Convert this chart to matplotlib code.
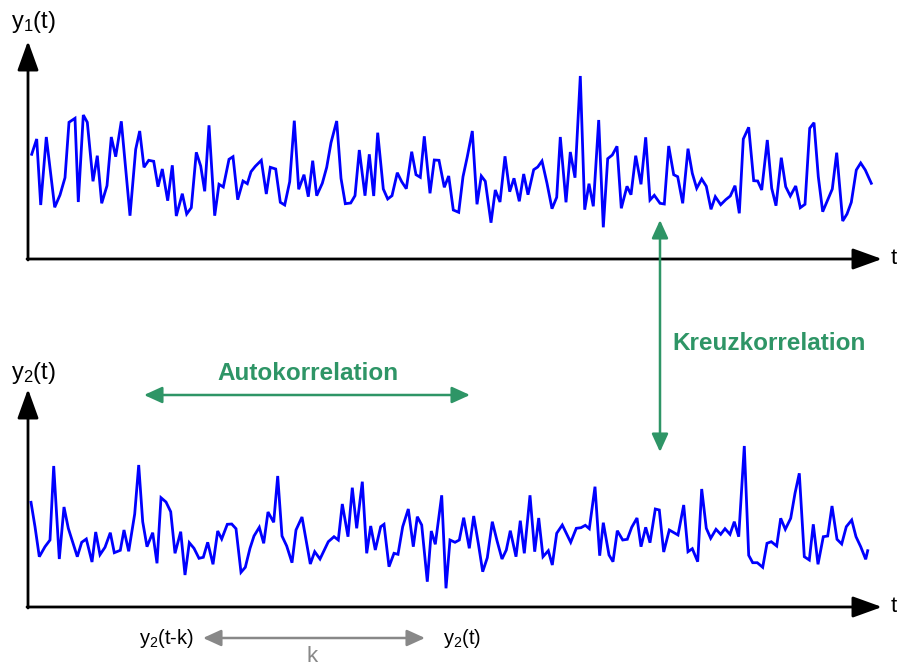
import matplotlib
matplotlib.use('Agg')
import matplotlib.pyplot as plt
from matplotlib.patches import FancyArrowPatch

plt.rcParams['font.family'] = ['Liberation Sans', 'DejaVu Sans']
plt.rcParams['mathtext.fontset'] = 'custom'
plt.rcParams['mathtext.rm'] = 'Liberation Sans'
plt.rcParams['mathtext.it'] = 'Liberation Sans'

# series y1(t): time and amplitude
t1 = [3.7, 8.7, 12.7, 18.3, 26.7, 32, 37, 41, 47, 50.3, 55.3, 59.3, 65, 69.3,
      73.7, 79, 83.3, 87.7, 93.3, 102, 107.7, 111.7, 116, 120.7, 125.7, 130,
      134.3, 139.7, 144.3, 148.3, 154.3, 158.7, 163.3, 168.3, 172.7, 176.7,
      181, 186.7, 191, 195.3, 201, 205, 209.7, 215, 219.3, 223, 227.3, 233.3,
      238.3, 242.3, 247.7, 252.3, 256.7, 261.7, 266.3, 270.7, 276, 280.3,
      284.7, 288.7, 294.3, 298.7, 303, 308.7, 313, 317.3, 322.7, 327, 331.3,
      337, 341.3, 345.7, 349.7, 355.3, 359.7, 364, 369.3, 373.7, 378.3, 383.7,
      388, 392.3, 396.3, 402, 406.3, 411, 416.3, 420.7, 425.3, 430.7, 435,
      439.3, 444.3, 449, 453.3, 457.3, 463, 467.3, 472, 477, 481.7, 486,
      491.3, 495.7, 500, 505.7, 509.7, 514, 519, 524, 528.7, 532.3, 538,
      542.3, 547, 552.3, 556.7, 561, 565.3, 570.7, 575.3, 579.7, 584.3, 589,
      593.3, 599, 603, 607.7, 613, 617.7, 622, 626.3, 632, 636.3, 640.7,
      645.7, 649.7, 654.7, 660, 664.3, 668.7, 673.7, 678.3, 683, 687.3, 692.7,
      697.7, 702.3, 707, 711.3, 715.3, 720.7, 725.7, 729.7, 733.7, 739.3,
      743.7, 748, 753.3, 757.7, 762.3, 767.7, 772.3, 777, 781.7, 786, 790.3,
      794.7, 799.7, 804.3, 808.7, 814.7, 819, 823.3, 828.3, 832.7, 837.3,
      843.3]
y1 = [104.7, 120, 54, 122, 51.7, 64, 81.3, 136.7, 140.7, 57, 144, 136.7,
      77.7, 103.3, 55.7, 73.3, 122, 102.3, 137.7, 43.3, 109.7, 128, 91.7,
      98.7, 97.7, 72.3, 90, 58.3, 93.7, 43, 65.3, 45, 51.3, 106.7, 93, 67.7,
      133.7, 43.3, 74.7, 72, 99.7, 102.3, 59.3, 78, 75.3, 87.3, 92.7, 98.7,
      65, 91.7, 90, 56.7, 54, 77.3, 138.3, 69.7, 84.3, 62.3, 98.3, 63.3, 75.7,
      91.7, 116.3, 138, 80.7, 55.3, 56, 63.3, 109, 63.3, 104.7, 63, 126.3, 70,
      60, 63.3, 86.3, 77.3, 70.3, 107.3, 84.3, 81.7, 122.7, 65.7, 99, 98.7,
      71.7, 83, 49, 46.7, 82.3, 102.3, 128, 54.7, 83, 77.7, 36.3, 69, 57,
      102.7, 67.3, 80.7, 57.7, 85, 64.3, 89.3, 92, 98, 75.7, 50.3, 61.7, 122,
      56.7, 107, 81.3, 183, 49.3, 75.3, 52.7, 139, 31.7, 100.3, 104, 112.7,
      50.7, 72.7, 64.3, 103.3, 74.7, 121.7, 59, 63.7, 55.7, 55, 113, 84.3,
      82.3, 55.7, 110.3, 85.7, 70.7, 80, 72.7, 49.7, 62.3, 54.3, 59.3, 63,
      73.3, 45.7, 120, 131.7, 78.3, 78, 69, 119, 70.7, 53.3, 101.3, 72.3, 63,
      73, 51.3, 54.7, 130.7, 136.3, 82.3, 47.3, 59, 70, 106.3, 38, 45, 56.7,
      89, 96, 89, 75.7]

# series y2(t)
t2 = [3, 7, 11.3, 17, 22, 25.7, 31.3, 36, 40.3, 49.3, 53.7, 58.3, 64, 67.7,
      72, 77, 82.3, 86.3, 92.3, 96, 100.7, 106.7, 110.7, 114.7, 119, 124.7,
      129, 133, 138, 142.7, 147, 152.7, 157, 161.3, 166, 171, 175.3, 179.7,
      185, 189.7, 193.7, 199.3, 203.7, 208, 213, 217.3, 222, 226, 231.3,
      235.7, 240, 245.7, 249.7, 254, 258.7, 264, 268, 274, 282.3, 286.7, 292,
      296.3, 300.3, 306, 310.3, 314.3, 320, 324.3, 328.7, 334.3, 338.7, 342.7,
      347.3, 352.7, 356, 361, 366, 370, 374.7, 380.3, 385.3, 389.3, 393.7,
      399.3, 403.3, 407.3, 413.7, 418, 422, 427, 431.3, 435.7, 441.3, 445.7,
      450.3, 454.7, 459.3, 464.3, 469, 474, 478.3, 482.3, 488, 492.3, 496.3,
      502, 506.7, 510.7, 515, 520.3, 524.3, 528.7, 534.3, 542.7, 548.3, 553,
      557.3, 561.3, 567, 571.7, 575.3, 581, 585, 589.3, 594.7, 599.3, 603.7,
      609, 613, 617.7, 622, 627.3, 631.3, 635.7, 641.3, 645.3, 650, 655.7,
      660, 664.3, 669.7, 673.7, 678.3, 682.7, 688, 692.7, 697, 702, 706.3,
      710.7, 716.3, 720.7, 724.7, 729.3, 734.7, 739, 743.3, 748.7, 752.7,
      757.3, 762.7, 767, 771.3, 776.3, 781.3, 785.3, 790, 795.3, 799.7, 804,
      809, 813.7, 818.3, 823.7, 828, 832.7, 837.7, 839.7]
y2 = [104.7, 80.3, 50.3, 60.3, 67, 141, 48, 100, 78.7, 50.3, 64.7, 68, 45,
      75, 52.3, 59.7, 74.3, 54.3, 56.7, 77, 55.7, 93, 142, 85.3, 60.3, 74.3,
      43.7, 109.3, 105, 95.3, 53.7, 75.3, 32, 64.3, 58.7, 48.7, 49.7, 64.7,
      42.7, 76, 68, 82.7, 83, 78.3, 34.7, 39.7, 58.7, 71, 79.7, 63.7, 95,
      84.7, 131, 71, 61, 44.3, 77, 90, 43, 55.3, 48, 57, 65.3, 70.3, 67, 103,
      70.3, 119.3, 78.7, 125.3, 53.7, 81, 57, 80.3, 82.7, 40.3, 53.7, 52.7,
      80.3, 98, 60.3, 90.3, 82, 25.3, 76, 62.7, 111.7, 18.7, 67, 64.7, 67,
      89.3, 58.7, 91, 63.7, 35.3, 49.3, 85.3, 66.3, 48, 57, 76.3, 50.3, 86.3,
      53.7, 111.7, 55.3, 89, 50.3, 56.3, 42, 73.7, 82, 64.7, 78.7, 79.3, 81.7,
      78.3, 120.3, 51.3, 84.3, 52, 45.3, 76.3, 67, 67.7, 79.7, 89, 60.3, 79.7,
      64.3, 98, 97, 55, 77, 74.7, 72, 102, 55.3, 58.3, 45.3, 118, 78.7, 68.7,
      77.7, 72.7, 78.3, 72.7, 85.3, 70.3, 161, 51.7, 44.3, 44.3, 39.7, 63.7,
      65.3, 61, 88.7, 77.7, 88.7, 113.7, 133.7, 50.3, 47, 82.7, 42.7, 70.3,
      71, 101, 67.7, 63, 80.3, 87, 70.3, 60.3, 47.7, 56.3]

W, H = 897, 666
blue = '#0000ff'
green = '#2e9566'
grey = '#888888'

fig = plt.figure(figsize=(W / 100, H / 100), dpi=100)

# overlay in pixel coordinates for axes arrows and labels
ann = fig.add_axes([0, 0, 1, 1])
ann.set_xlim(0, W)
ann.set_ylim(H, 0)
ann.axis('off')


def arrow(x0, y0, x1, y1, color, lw, style):
    ann.add_patch(FancyArrowPatch((x0, y0), (x1, y1), arrowstyle=style,
                                  color=color, lw=lw, shrinkA=0, shrinkB=0,
                                  mutation_scale=1))


# plot panels: origin (28, base), one data unit = one pixel
for base, t, y in ((259, t1, y1), (607, t2, y2)):
    ax = fig.add_axes([28 / W, (H - base) / H, (W - 28) / W, 200 / H])
    ax.set_xlim(0, W - 28)
    ax.set_ylim(0, 200)
    ax.axis('off')
    ax.plot(t, y, color=blue, lw=2.0, solid_joinstyle='miter')
    # coordinate axes
    arrow(28, base + 1, 28, base - 218, 'black', 2.0, '-|>,head_length=18,head_width=6.5')
    arrow(27, base, 882, base, 'black', 2.0, '-|>,head_length=18,head_width=6.5')
    ann.text(897, base, 't', fontsize=16, ha='right', va='center')

ann.text(11, 22, r'y$_1$(t)', fontsize=17, ha='left', va='center')
ann.text(11, 373, r'y$_2$(t)', fontsize=17, ha='left', va='center')

# cross correlation
arrow(660, 220, 660, 452, green, 1.8, '<|-|>,head_length=11,head_width=5')
ann.text(769, 344, 'Kreuzkorrelation', fontsize=17.5, fontweight='bold',
         color=green, ha='center', va='center')

# auto correlation
arrow(144, 395, 470, 395, green, 1.8, '<|-|>,head_length=11,head_width=5')
ann.text(308, 373, 'Autokorrelation', fontsize=17.5, fontweight='bold',
         color=green, ha='center', va='center')

# lag k
arrow(203, 638, 425, 638, grey, 1.8, '<|-|>,head_length=11,head_width=5')
ann.text(312, 656, 'k', fontsize=16, color=grey, ha='center', va='center')
ann.text(139, 638, r'y$_2$(t-k)', fontsize=14.5, ha='left', va='center')
ann.text(443, 638, r'y$_2$(t)', fontsize=14.5, ha='left', va='center')

fig.savefig('out.png', dpi=100)
